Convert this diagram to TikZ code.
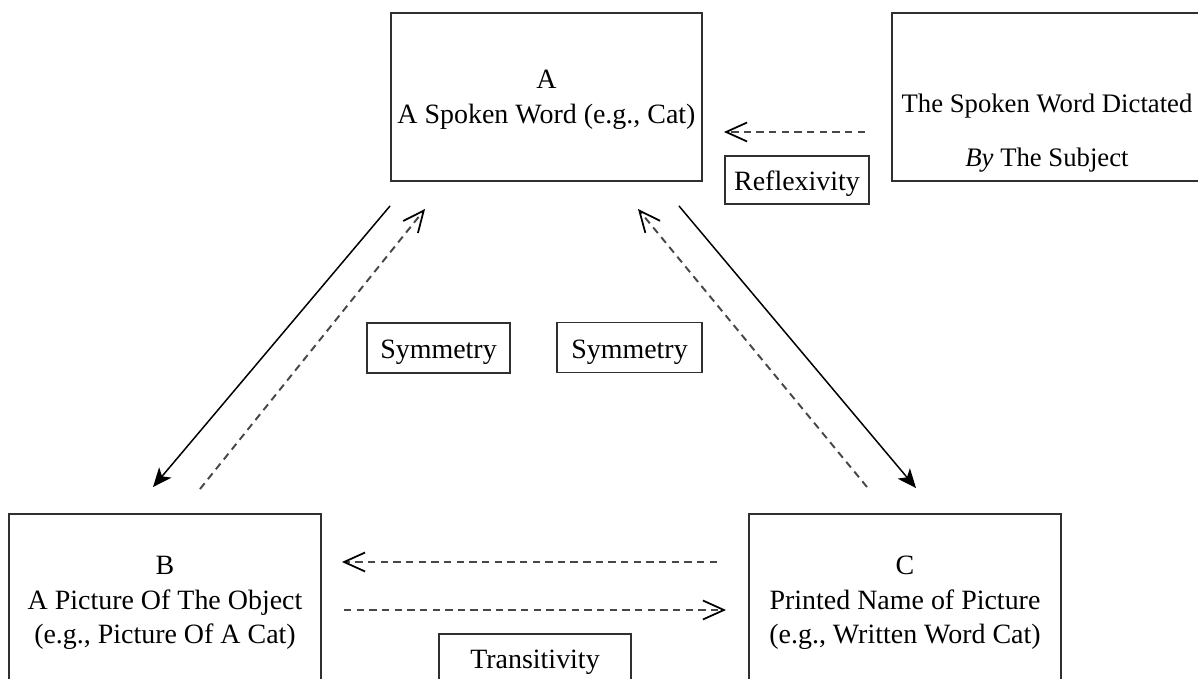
\documentclass[tikz,border=0pt]{standalone}
\usepackage{fontspec}
\setmainfont{Liberation Serif}
\definecolor{FrameDark}{HTML}{303030}
\definecolor{DashGray}{HTML}{474747}
\usetikzlibrary{arrows.meta,positioning}
\tikzset{
  stim/.style={draw=FrameDark, line width=1.1pt, align=center, minimum width=6.2cm, minimum height=3.4cm, inner sep=0pt, text depth=0pt, font=\fontsize{15.9}{19.6}\selectfont},
  relation/.style={draw=FrameDark, line width=1.1pt, align=center, minimum height=0.97cm, inner sep=0pt, text height=12pt, text depth=0pt, font=\fontsize{15.9}{19.6}\selectfont},
  trained/.style={-{Stealth[length=3.8mm,width=3.2mm,inset=1mm]}, line width=0.85pt, black},
  derived/.style={-{Straight Barb[length=4.2mm,width=3.8mm,black,line width=1pt]}, line width=1.1pt, DashGray, dash pattern=on 4.2pt off 3pt}
}
\begin{document}
\begin{tikzpicture}
    \useasboundingbox (0,0) rectangle (23.96,-13.58);
    \node[stim, minimum width=6.22cm, minimum height=3.36cm] (A) at (10.93,-1.94) {A\\A Spoken Word (e.g., Cat)};
    \node[stim, minimum width=6.2cm, minimum height=3.36cm] (subj) at (20.94,-1.94) {};
    \node[align=center, inner sep=0pt, font=\fontsize{15.2}{19.6}\selectfont] (subjtext) at (20.94,-2.66) {The Spoken Word Dictated\\[11.5pt]\textit{By} The Subject};
    \node[stim, minimum width=6.24cm, minimum height=3.44cm] (B) at (3.3,-12.0) {B\\A Picture Of The Object\\(e.g., Picture Of A Cat)};
    \node[stim, minimum width=6.24cm, minimum height=3.44cm] (C) at (18.1,-12.0) {C\\Printed Name of Picture\\(e.g., Written Word Cat)};

    \node[relation, minimum width=2.88cm] (refl) at (15.94,-3.6) {Reflexivity};
    \node[relation, minimum width=2.86cm, minimum height=1cm] (symL) at (8.77,-6.96) {Symmetry};
    \node[relation, minimum width=2.9cm, minimum height=1cm] (symR) at (12.59,-6.95) {Symmetry};
    \node[relation, minimum width=3.84cm] (trans) at (10.7,-13.16) {Transitivity};

    % trained relations
    \draw[trained] ([yshift=-0.48cm]A.south west) -- ([shift={(-0.24,0.52)}]B.north);
    \draw[trained] ([shift={(-0.48,-0.48)}]A.south east) -- ([shift={(0.22,0.5)}]C.north);

    % derived relations
    \draw[derived] ([shift={(0.7,0.48)}]B.north) -- ([shift={(0.7,-0.54)}]A.south west);
    \draw[derived] ([shift={(-0.76,0.52)}]C.north) -- ([shift={(-1.3,-0.54)}]A.south east);
    \draw[derived] ([shift={(-0.62,0.76)}]C.west) -- ([shift={(0.4,0.76)}]B.east);
    \draw[derived] ([shift={(0.44,-0.2)}]B.east) -- ([shift={(-0.44,-0.2)}]C.west);
    \draw[derived] ([shift={(-0.52,-0.7)}]subj.west) -- ([shift={(0.42,-0.7)}]A.east);
\end{tikzpicture}
\end{document}
